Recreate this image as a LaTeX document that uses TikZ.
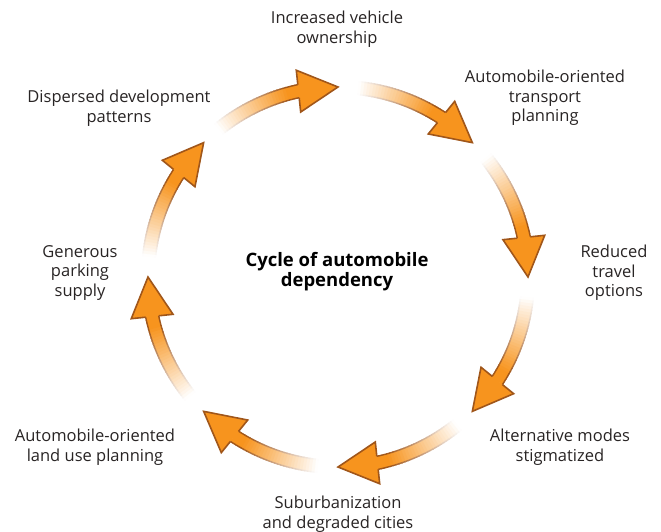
\documentclass[tikz,border=0pt]{standalone}
\usepackage{fontspec}
\setmainfont{Open Sans}
\usetikzlibrary{calc}
\definecolor{cycorange}{RGB}{247, 148, 30}
\definecolor{cycbrown}{RGB}{160, 86, 26}
\definecolor{cyctext}{RGB}{40, 36, 36}

\begin{document}
\begin{tikzpicture}[x=1pt, y=1pt,
    stage/.style={align=center, text=cyctext, font=\fontsize{16.5}{19.5}\selectfont},
    heading/.style={align=center, text=black, font=\bfseries\fontsize{18.5}{20}\selectfont},
    edge/.style={line width=1.4pt},
    head/.style={draw=cycbrown, line width=1.6pt, line join=miter}]
\useasboundingbox (-338,-255) rectangle (323,277);
\foreach \a in {90,45,...,-225}{
  \foreach \i in {0,...,29}{
    \pgfmathsetmacro\sa{\a+39-\i*0.9}
    \pgfmathsetmacro\ea{\sa-1.1}
    \pgfmathtruncatemacro\p{min(100,115*(\i+0.5)/30)}
    \fill[cycorange!\p!white] (\sa:196.5) arc[start angle=\sa, end angle=\ea, radius=196.5]
      -- (\ea:183.5) arc[start angle=\ea, end angle=\sa, radius=183.5] -- cycle;
    \draw[edge, cycbrown!\p!white] (\sa:196.5) arc[start angle=\sa, end angle=\ea, radius=196.5];
    \draw[edge, cycbrown!\p!white] (\sa:183.5) arc[start angle=\sa, end angle=\ea, radius=183.5];
  }
  \coordinate (tip) at (\a:190);
  \coordinate (base) at (\a+12:190);
  \coordinate (c1) at ($(base)!21pt!90:(tip)$);
  \coordinate (c2) at ($(base)!21pt!-90:(tip)$);
  \coordinate (s1) at ($(base)!6.5pt!90:(tip)$);
  \coordinate (s2) at ($(base)!6.5pt!-90:(tip)$);
  \fill[cycorange] (c1) -- (tip) -- (c2) -- cycle;
  \draw[head] (s1) -- (c1) -- (tip) -- (c2) -- (s2);
}
\node[heading] (0) at (-1,5) {Cycle of automobile\\dependency};
\node[stage] (1) at (-1,248) {Increased vehicle\\ownership};
\node[stage] (2) at (207,179) {Automobile-oriented\\transport\\planning};
\node[stage] (3) at (276,4) {Reduced\\travel\\options};
\node[stage] (4) at (222,-170) {Alternative modes\\stigmatized};
\node[stage] (5) at (0,-237) {Suburbanization\\and degraded cities};
\node[stage] (6) at (-243,-170) {Automobile-oriented\\land use planning};
\node[stage] (7) at (-258,4) {Generous\\parking\\supply};
\node[stage] (8) at (-219,169) {Dispersed development\\patterns};
\end{tikzpicture}
\end{document}
